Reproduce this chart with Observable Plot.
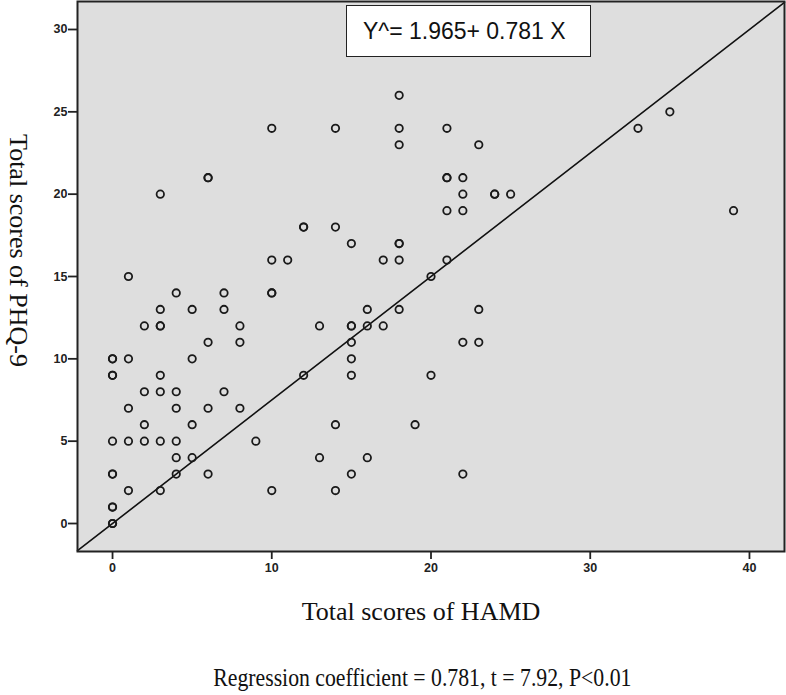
<!DOCTYPE html>
<html>
<head>
<meta charset="utf-8">
<script src="https://cdn.jsdelivr.net/npm/d3@7"></script>
<script src="https://cdn.jsdelivr.net/npm/@observablehq/plot@0.6"></script>
<style>
  html, body { margin: 0; padding: 0; background: #ffffff; }
  #wrap { position: relative; width: 786px; height: 695px; overflow: hidden; }
  #eq {
    position: absolute; left: 346px; top: 5px; width: 243px; height: 50px;
    background: #ffffff; border: 1.5px solid #222;
    font-family: "Liberation Sans", Arial, sans-serif; font-size: 23px;
    line-height: 50px; color: #111; box-sizing: content-box;
    padding-left: 0; text-indent: 16px; white-space: nowrap;
  }
  #caption {
    position: absolute; left: 0; top: 662px; width: 844px; text-align: center;
    font-family: "Liberation Serif", "Times New Roman", serif; font-size: 25px;
    line-height: 32px; color: #111; white-space: nowrap;
  }
  #caption span { display: inline-block; transform: scaleX(0.87); transform-origin: center; }
</style>
</head>
<body>
<div id="wrap">
  <div id="chart"></div>
  <div id="eq">Y^= 1.965+ 0.781 X</div>
  <div id="caption"><span>Regression coefficient = 0.781, t = 7.92, P&lt;0.01</span></div>
</div>
<script>
// HAMD total score (x) for each participant
const hamd = [
  0,0,0,0,0,0,0,0,0,0,0,
  1,1,1,1,1,
  2,2,2,2,
  3,3,3,3,3,3,3,3,
  4,4,4,4,4,4,
  5,5,5,5,
  6,6,6,6,6,
  7,7,7,
  8,8,8,
  9,
  10,10,10,10,10,
  11,
  12,12,12,
  13,13,
  14,14,14,14,
  15,15,15,15,15,15,15,
  16,16,16,
  17,17,
  18,18,18,18,18,18,18,
  19,
  20,20,
  21,21,21,21,21,
  22,22,22,22,22,
  23,23,23,
  24,24,
  25,
  33,35,39
];
// PHQ-9 total score (y) for each participant
const phq9 = [
  0,0,1,1,3,3,5,9,9,10,10,
  2,5,7,10,15,
  5,6,8,12,
  2,5,8,9,12,12,13,20,
  3,4,5,7,8,14,
  4,6,10,13,
  3,7,11,21,21,
  8,13,14,
  7,11,12,
  5,
  2,14,16,24,14,
  16,
  9,18,18,
  4,12,
  2,6,18,24,
  3,9,10,11,12,12,17,
  4,12,13,
  12,16,
  13,16,17,17,23,24,26,
  6,
  9,15,
  16,19,21,21,24,
  3,11,19,20,21,
  11,13,23,
  20,20,
  20,
  24,25,19
];
const xTicks = [0, 10, 20, 30, 40];
const yTicks = [0, 5, 10, 15, 20, 25, 30];
const xDomain = [-2.2, 42.2];
const yDomain = [-1.7, 31.7];
// reference line drawn corner to corner of the plotting area
const refX = [-2.2, 42.2];
const refY = [-1.65, 31.65];
const xLabel = "Total scores of HAMD";
const yLabel = "Total scores of PHQ-9";

const points = hamd.map((h, i) => ({x: h, y: phq9[i]}));
const refLine = refX.map((v, i) => ({x: v, y: refY[i]}));

const tickFont = "'Liberation Sans Narrow', 'Liberation Sans', Arial, sans-serif";
const serif = "'Liberation Serif', 'Times New Roman', serif";

const chart = Plot.plot({
  width: 786,
  height: 640,
  marginLeft: 77,
  marginRight: 2,
  marginTop: 1,
  marginBottom: 89,
  style: {background: "transparent", color: "#222"},
  x: {domain: xDomain},
  y: {domain: yDomain},
  marks: [
    Plot.frame({fill: "#dedede"}),
    Plot.line(refLine, {x: "x", y: "y", stroke: "#111", strokeWidth: 1.6}),
    Plot.dot(points, {x: "x", y: "y", r: 3.7, stroke: "#1a1a1a", strokeWidth: 1.8, fill: "none"}),
    Plot.frame({stroke: "#222", strokeWidth: 2}),
    Plot.axisX({ticks: xTicks, tickSize: 8, tickPadding: 4, tickFormat: d => d, label: null,
      fontSize: 12.5, fontWeight: "bold", fontFamily: tickFont, strokeWidth: 1.8}),
    Plot.axisY({ticks: yTicks, tickSize: 9, tickPadding: 1, tickFormat: d => d, label: null,
      fontSize: 12.5, fontWeight: "bold", fontFamily: tickFont, strokeWidth: 1.8}),
    Plot.text([xLabel], {text: d => d, frameAnchor: "bottom", lineAnchor: "middle", textAnchor: "middle",
      dx: -10, dy: 60, fontSize: 26, fontFamily: serif, fill: "#111"}),
    Plot.text([yLabel], {text: d => d, frameAnchor: "left", lineAnchor: "middle", textAnchor: "middle",
      rotate: 90, dx: -59, dy: -26, fontSize: 26, fontFamily: serif, fill: "#111"})
  ]
});
document.getElementById("chart").appendChild(chart);
</script>
</body>
</html>
